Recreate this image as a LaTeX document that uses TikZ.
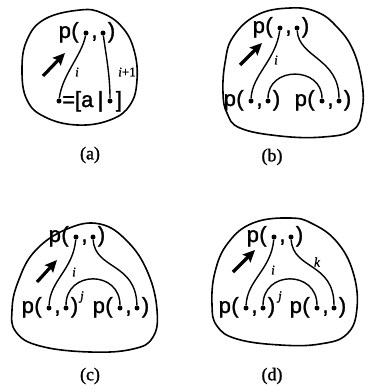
\documentclass[tikz,border=0pt]{standalone}
\usepackage{fontspec}
\setmainfont{Liberation Serif}
\setsansfont{Liberation Sans}
\newfontfamily\pfont[FakeBold=1.4]{Liberation Sans}
\newfontfamily\lfont[FakeBold=1.2]{Liberation Serif}
\usetikzlibrary{arrows.meta}
\tikzset{
  ptxt/.style={inner sep=0pt,font=\pfont\fontsize{22}{22}\selectfont},
  pdot/.style={circle,fill=black,inner sep=0pt,minimum size=5pt},
  blob/.style={draw=black,line width=1.6pt},
  wire/.style={draw=black,line width=1.4pt},
  fatarrow/.style={draw=black,line width=3.2pt,-{Stealth[length=12pt,width=11pt,inset=2pt]}},
  lbl/.style={inner sep=0pt,font=\lfont\itshape\fontsize{13}{13}\selectfont},
  captxt/.style={inner sep=0pt,font=\lfont\fontsize{18}{18}\selectfont},
}
\newcommand\pgrp[3]{%
  \node[ptxt,anchor=base west] (#1p) at (#2-1.5,#3) {p};
  \node[ptxt,anchor=base] (#1o) at ({#2+15},#3) {(};
  \node[pdot] (#1l) at ({#2+26},{#3-5}) {};
  \node[ptxt,anchor=base] (#1c) at ({#2+34.5},#3) {,};
  \node[pdot] (#1r) at ({#2+43},{#3-5}) {};
  \node[ptxt,anchor=base] (#1e) at ({#2+51.5},#3) {)};
}
\begin{document}
\begin{tikzpicture}[x=1pt,y=-1pt]
\useasboundingbox (0,0) rectangle (365,391);
% ---------- (a)
\draw[blob] plot[smooth cycle,tension=0.7] coordinates {(80,10) (45,19) (27,40) (22,70) (27,100) (45,117) (77,125) (110,120) (130,105) (137,80) (134,50) (122,27) (102,13)};
\pgrp{at}{60}{38}
\node[pdot] (abl) at (59,101) {};
\node[ptxt,anchor=base west] (aeq) at (62,107) {=[a};
\node[ptxt,anchor=base] (abar) at (100.5,107) {|};
\node[pdot] (abr) at (110,101) {};
\node[ptxt,anchor=base] (abrk) at (119,107) {]};
\draw[wire] (atl) .. controls (82,55) and (62,75) .. (abl);
\draw[wire] (atr) .. controls (106,55) and (110,75) .. (abr);
\node[lbl] (ai) at (77,72) {i};
\node[lbl] (ai1) at (127,72) {i\upshape+1};
\coordinate (aa0) at (43,76); \coordinate (aa1) at (65,53);
\draw[fatarrow] (aa0) -- (aa1);
\node[captxt] (capa) at (90,155) {(a)};
% ---------- (b)
\draw[blob] plot[smooth cycle,tension=0.7] coordinates {(290,8) (257,15) (233,37) (225,63) (223,93) (227,113) (240,128) (280,136) (323,137) (353,130) (362,110) (362,83) (353,50) (337,27) (317,12)};
\pgrp{bt}{254}{33}
\pgrp{bb}{225}{106}
\pgrp{bc}{296}{106}
\draw[wire] (btl) .. controls (276,60) and (252,75) .. (bbl);
\draw[wire] (btr) .. controls (299,58) and (339,58) .. (bcr);
\draw[wire] (bbr) .. controls (268,66) and (322,66) .. (bcl);
\node[lbl] (bi) at (276,60) {i};
\coordinate (ba0) at (240,65); \coordinate (ba1) at (262,43);
\draw[fatarrow] (ba0) -- (ba1);
\node[captxt] (capb) at (272,157) {(b)};
% ---------- (c)
\draw[blob] plot[smooth cycle,tension=0.7] coordinates {(100,224) (67,229) (35,251) (18,282) (12,310) (16,332) (40,346) (90,352) (133,349) (153,337) (157,310) (148,273) (128,242)};
\pgrp{ct}{50}{242}
\pgrp{cb}{23}{313}
\pgrp{cc}{94}{313}
\draw[wire] (ctl) .. controls (73,270) and (50,280) .. (cbl);
\draw[wire] (ctr) .. controls (95,270) and (136,262) .. (ccr);
\draw[wire] (cbr) .. controls (66,270) and (120,270) .. (ccl);
\node[lbl] (ci) at (74,272) {i};
\node[lbl] (cj) at (82,297) {j};
\coordinate (ca0) at (37,282); \coordinate (ca1) at (57,260);
\draw[fatarrow] (ca0) -- (ca1);
\node[captxt] (capc) at (90,376) {(c)};
% ---------- (d)
\draw[blob] plot[smooth cycle,tension=0.7] coordinates {(290,218) (253,223) (228,243) (215,272) (212,305) (217,326) (237,339) (280,345) (320,344) (347,334) (357,308) (353,272) (337,242) (313,224)};
\pgrp{dt}{248}{242}
\pgrp{db}{220}{313}
\pgrp{dc}{291}{313}
\draw[wire] (dtl) .. controls (271,270) and (247,280) .. (dbl);
\draw[wire] (dtr) .. controls (293,270) and (334,262) .. (dcr);
\draw[wire] (dbr) .. controls (263,270) and (317,270) .. (dcl);
\node[lbl] (di) at (273,270) {i};
\node[lbl] (dj) at (280,297) {j};
\node[lbl] (dk) at (317,262) {k};
\coordinate (da0) at (233,272); \coordinate (da1) at (255,250);
\draw[fatarrow] (da0) -- (da1);
\node[captxt] (capd) at (272,376) {(d)};
\end{tikzpicture}
\end{document}
